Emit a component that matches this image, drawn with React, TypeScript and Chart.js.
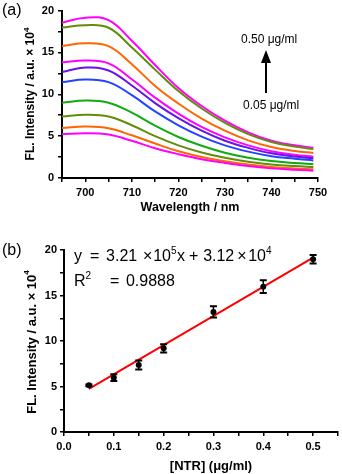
import React, { useEffect, useRef } from 'react';
import { Chart, registerables } from 'chart.js';

Chart.register(...registerables);

const FF = '"Liberation Sans", Arial, Helvetica, sans-serif';

// ---------- Panel (a): emission spectra ----------
const wavelengths = [695, 700, 705, 710, 715, 720, 725, 730, 735, 740, 745, 749];
const spec1 = [5.23, 5.35, 5.2, 4.45, 3.55, 2.85, 2.25, 1.8, 1.42, 1.15, 0.98, 0.88];
const spec2 = [5.98, 6.14, 5.95, 5.1, 4.12, 3.2, 2.52, 2.0, 1.6, 1.32, 1.14, 1.04];
const spec3 = [7.36, 7.55, 7.35, 6.3, 5.0, 3.9, 3.05, 2.42, 1.95, 1.62, 1.42, 1.3];
const spec4 = [9.0, 9.25, 9.0, 7.8, 6.25, 4.9, 3.85, 3.02, 2.42, 2.02, 1.78, 1.65];
const spec5 = [11.45, 11.77, 11.45, 9.9, 7.95, 6.3, 4.95, 3.9, 3.15, 2.6, 2.3, 2.1];
const spec6 = [12.67, 13.2, 12.85, 11.05, 8.95, 7.15, 5.65, 4.45, 3.6, 2.95, 2.58, 2.35];
const spec7 = [13.8, 14.05, 13.7, 11.8, 9.6, 7.7, 6.1, 4.85, 3.9, 3.2, 2.78, 2.55];
const spec8 = [15.78, 16.1, 15.75, 13.6, 11.0, 8.9, 7.1, 5.65, 4.5, 3.7, 3.22, 3.0];
const spec9 = [17.98, 18.26, 17.95, 15.6, 12.95, 10.4, 8.3, 6.6, 5.25, 4.3, 3.75, 3.45];
const spec10 = [18.55, 19.16, 18.85, 16.4, 13.5, 10.75, 8.6, 6.85, 5.45, 4.45, 3.9, 3.62];
const spectra = [spec1, spec2, spec3, spec4, spec5, spec6, spec7, spec8, spec9, spec10];
const specColors = ['#FF00FF', '#FF6600', '#638C0B', '#11AA11', '#2244FF', '#6611EE', '#FF00FF', '#FF6600', '#638C0B', '#FF00FF'];
const axisAYTicks = [0, 5, 10, 15, 20];
const axisAXTicks = [700, 710, 720, 730, 740, 750];

// ---------- Panel (b): calibration ----------
const conc = [0.05, 0.1, 0.15, 0.2, 0.3, 0.4, 0.5];
const intensity = [5.13, 5.97, 7.36, 9.19, 13.2, 15.97, 18.98];
const errBars = [0.1, 0.37, 0.5, 0.46, 0.62, 0.7, 0.46];
const fitX = [0.05, 0.5];
const fitY = [4.73, 19.17];

type Part = { t: string; sup?: boolean; dx?: number };

function drawRich(ctx: CanvasRenderingContext2D, parts: Part[], x: number, y: number, size: number, weight: string, align: 'left' | 'center') {
  const base = `${weight} ${size}px ${FF}`;
  const supF = `${weight} ${Math.round(size * 0.65)}px ${FF}`;
  const widths = parts.map((p) => {
    ctx.font = p.sup ? supF : base;
    return ctx.measureText(p.t).width + (p.dx || 0);
  });
  const total = widths.reduce((a, b) => a + b, 0);
  let cx = align === 'center' ? x - total / 2 : x;
  ctx.textBaseline = 'middle';
  ctx.textAlign = 'left';
  ctx.fillStyle = '#000';
  parts.forEach((p, i) => {
    ctx.font = p.sup ? supF : base;
    ctx.fillText(p.t, cx + (p.dx || 0), p.sup ? y - size * 0.38 : y);
    cx += widths[i];
  });
}

function axisCommon(extra: any) {
  return {
    grid: { display: true, drawOnChartArea: false, drawTicks: true, tickLength: 4, color: '#000', tickColor: '#000', tickWidth: 1.5, lineWidth: 1.5 },
    border: { display: true, color: '#000', width: 2 },
    ...extra,
  };
}

const tickFont = { family: FF, size: 11, weight: 'bold' as const };

const OFFSET_B = 230;

export default function App() {
  const refA = useRef<HTMLCanvasElement>(null);
  const refB = useRef<HTMLCanvasElement>(null);

  useEffect(() => {
    const textA = {
      id: 'textA',
      afterDraw(chart: any) {
        const ctx = chart.ctx as CanvasRenderingContext2D;
        ctx.save();
        drawRich(ctx, [{ t: '(a)' }], 2, 11, 16, 'normal', 'left');
        ctx.save();
        ctx.translate(31, 94);
        ctx.rotate(-Math.PI / 2);
        drawRich(ctx, [{ t: 'FL. Intensity / a.u. × 10' }, { t: '4', sup: true }], 0, 0, 12, 'bold', 'center');
        ctx.restore();
        drawRich(ctx, [{ t: 'Wavelength / nm' }], 190, 208, 12.5, 'bold', 'center');
        drawRich(ctx, [{ t: '0.50 μg/ml' }], 241, 40, 12, 'normal', 'left');
        drawRich(ctx, [{ t: '0.05 μg/ml' }], 243, 106, 12, 'normal', 'left');
        // arrow
        ctx.strokeStyle = '#000';
        ctx.lineWidth = 2;
        ctx.beginPath();
        ctx.moveTo(266, 93);
        ctx.lineTo(266, 60);
        ctx.stroke();
        ctx.fillStyle = '#000';
        ctx.beginPath();
        ctx.moveTo(266, 50);
        ctx.lineTo(261, 63);
        ctx.lineTo(271, 63);
        ctx.closePath();
        ctx.fill();
        ctx.restore();
      },
    };

    const chartA = new Chart(refA.current!, {
      type: 'line',
      data: {
        datasets: spectra.map((s, i) => ({
          data: wavelengths.map((w, j) => ({ x: w, y: s[j] })),
          borderColor: specColors[i],
          borderWidth: 2,
          pointRadius: 0,
          tension: 0.4,
          fill: false,
        })),
      },
      options: {
        animation: false,
        responsive: false,
        events: [],
        layout: { padding: { left: 0, right: 24, top: 9, bottom: 0 } },
        plugins: { legend: { display: false }, tooltip: { enabled: false } },
        scales: {
          x: axisCommon({
            type: 'linear',
            min: 695,
            max: 750,
            afterFit: (s: any) => { s.height = 230 - 178; },
            ticks: {
              stepSize: 5,
              autoSkip: false,
              maxRotation: 0,
              padding: 4,
              color: '#000',
              font: tickFont,
              callback: (v: any) => (axisAXTicks.includes(Number(v)) ? String(v) : ''),
            },
          }),
          y: axisCommon({
            type: 'linear',
            min: 0,
            max: 20,
            afterFit: (s: any) => { s.width = 62; },
            ticks: {
              stepSize: 2.5,
              autoSkip: false,
              padding: 4,
              color: '#000',
              font: tickFont,
              callback: (v: any) => (axisAYTicks.includes(Number(v)) ? String(v) : ''),
            },
          }),
        },
      },
      plugins: [textA],
    });

    const errPlugin = {
      id: 'errB',
      afterDatasetsDraw(chart: any) {
        const ctx = chart.ctx as CanvasRenderingContext2D;
        const xs = chart.scales.x;
        const ys = chart.scales.y;
        ctx.save();
        ctx.strokeStyle = '#000';
        conc.forEach((c, i) => {
          const px = xs.getPixelForValue(c);
          const top = ys.getPixelForValue(intensity[i] + errBars[i]);
          const bot = ys.getPixelForValue(intensity[i] - errBars[i]);
          ctx.lineWidth = 1.5;
          ctx.beginPath();
          ctx.moveTo(px, top);
          ctx.lineTo(px, bot);
          ctx.stroke();
          ctx.lineWidth = 2;
          ctx.beginPath();
          ctx.moveTo(px - 3.5, top);
          ctx.lineTo(px + 3.5, top);
          ctx.moveTo(px - 3.5, bot);
          ctx.lineTo(px + 3.5, bot);
          ctx.stroke();
        });
        ctx.restore();
      },
      afterDraw(chart: any) {
        const ctx = chart.ctx as CanvasRenderingContext2D;
        ctx.save();
        drawRich(ctx, [{ t: '(b)' }], 2, 251 - OFFSET_B, 16, 'normal', 'left');
        ctx.save();
        ctx.translate(32, 342 - OFFSET_B);
        ctx.rotate(-Math.PI / 2);
        drawRich(ctx, [{ t: 'FL. Intensity / a.u. × 10' }, { t: '4', sup: true }], 0, 0, 13, 'bold', 'center');
        ctx.restore();
        drawRich(ctx, [{ t: '[NTR] (μg/ml)' }], 211, 466 - OFFSET_B, 13, 'bold', 'center');
        drawRich(
          ctx,
          [
            { t: 'y' },
            { t: '=', dx: 8 },
            { t: '3.21', dx: 6.7 },
            { t: '×', dx: 5.9 },
            { t: '10', dx: 0.7 },
            { t: '5', sup: true },
            { t: 'x', dx: 0.6 },
            { t: '+', dx: 4 },
            { t: '3.12', dx: 4.7 },
            { t: '×', dx: 2.9 },
            { t: '10', dx: 1.7 },
            { t: '4', sup: true },
          ],
          74,
          257 - OFFSET_B,
          16,
          'normal',
          'left'
        );
        drawRich(
          ctx,
          [{ t: 'R' }, { t: '2', sup: true }, { t: '=', dx: 18.8 }, { t: '0.9888', dx: 6.7 }],
          74,
          282 - OFFSET_B,
          16,
          'normal',
          'left'
        );
        ctx.restore();
      },
    };

    const chartB = new Chart(refB.current!, {
      type: 'scatter',
      data: {
        datasets: [
          {
            type: 'scatter' as const,
            data: conc.map((c, i) => ({ x: c, y: intensity[i] })),
            pointRadius: 3,
            pointBackgroundColor: '#000',
            pointBorderColor: '#000',
            pointBorderWidth: 0,
            order: 0,
          },
          {
            type: 'line' as const,
            data: fitX.map((x, i) => ({ x, y: fitY[i] })),
            borderColor: '#FF0000',
            borderWidth: 2,
            pointRadius: 0,
            fill: false,
            showLine: true,
            order: 1,
          } as any,
        ],
      },
      options: {
        animation: false,
        responsive: false,
        events: [],
        layout: { padding: { left: 0, right: 3, top: 250 - OFFSET_B, bottom: 0 } },
        plugins: { legend: { display: false }, tooltip: { enabled: false } },
        scales: {
          x: axisCommon({
            type: 'linear',
            min: 0,
            max: 0.55,
            afterFit: (s: any) => { s.height = 474 - 432; },
            ticks: {
              stepSize: 0.05,
              autoSkip: false,
              maxRotation: 0,
              padding: 4,
              color: '#000',
              font: tickFont,
              callback: (v: any) => {
                const n = Number(v) * 10;
                return Math.abs(n - Math.round(n)) < 1e-6 && Number(v) <= 0.5 + 1e-9 ? Number(v).toFixed(1) : '';
              },
            },
          }),
          y: axisCommon({
            type: 'linear',
            min: 0,
            max: 20,
            afterFit: (s: any) => { s.width = 64; },
            ticks: {
              stepSize: 2.5,
              autoSkip: false,
              padding: 3,
              color: '#000',
              font: tickFont,
              callback: (v: any) => (Number(v) % 5 === 0 ? String(v) : ''),
            },
          }),
        },
      },
      plugins: [errPlugin],
    });

    return () => {
      chartA.destroy();
      chartB.destroy();
    };
  }, []);

  return (
    <div style={{ position: 'fixed', left: 0, top: 0, width: 342, height: 474, background: '#fff', overflow: 'hidden' }}>
      <canvas ref={refA} width={342} height={230} style={{ position: 'absolute', left: 0, top: 0, width: 342, height: 230 }} />
      <canvas ref={refB} width={342} height={244} style={{ position: 'absolute', left: 0, top: OFFSET_B, width: 342, height: 244 }} />
    </div>
  );
}
